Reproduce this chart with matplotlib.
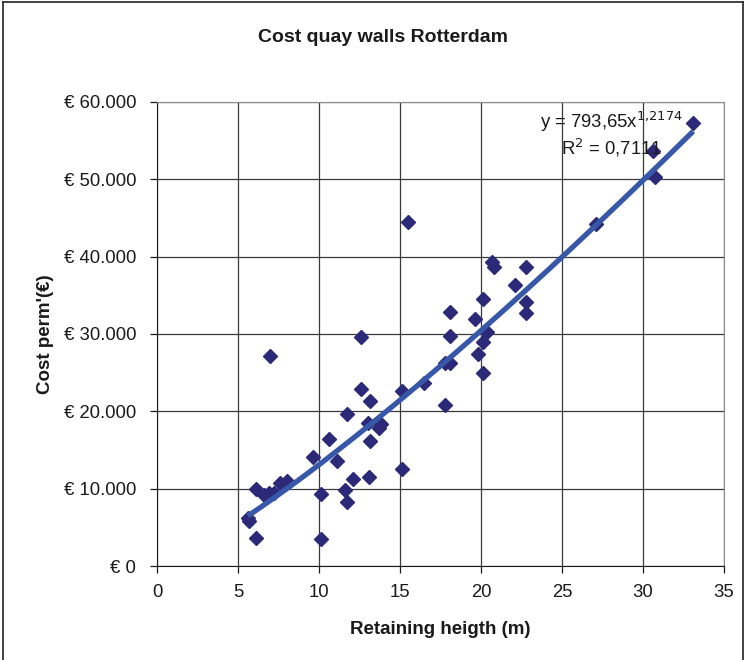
import numpy as np
import matplotlib.pyplot as plt
from matplotlib.ticker import FuncFormatter, MultipleLocator

plt.rcParams['font.family'] = ['Liberation Sans', 'DejaVu Sans']

# retaining height (m) and cost per metre (EUR)
height = [5.6, 5.7, 6.1, 6.1, 6.6, 6.9, 7.2, 7.6, 8.0, 7.0,
          9.6, 10.1, 10.1, 10.6, 11.1, 11.6, 11.75, 11.7, 12.1, 12.6,
          12.6, 13.15, 13.1, 13.0, 13.15, 13.7, 13.8, 15.1, 15.1, 15.5,
          16.5, 17.8, 17.8, 18.1, 18.1, 18.1, 19.6, 19.8, 20.15, 20.15,
          20.4, 20.1, 20.65, 20.8, 22.1, 22.8, 22.8, 22.8, 27.1, 30.6,
          30.75, 33.1]
cost = [6200, 5800, 3600, 9900, 9200, 9400, 9500, 10700, 11000, 27100,
        14050, 9300, 3450, 16400, 13600, 9800, 8300, 19600, 11200, 29600,
        22900, 21400, 11550, 18500, 16100, 17800, 18300, 12500, 22600, 44500,
        23700, 26200, 20800, 26200, 29800, 32800, 31900, 27400, 25000, 29000,
        30300, 34500, 39350, 38700, 36300, 38700, 34200, 32700, 44200, 53600,
        50300, 57250]

# power trendline y = a * x^b
coef_a = 793.65
coef_b = 1.2174
r_squared = 0.7111

fig = plt.figure(figsize=(7.47, 6.60), dpi=100)
ax = fig.add_axes([0.2102, 0.1424, 0.7590, 0.7031])

ax.plot(height, cost, linestyle='none', marker='D', markersize=7.2,
        color='#2c2a78', zorder=3)

xs = np.linspace(min(height), max(height), 200)
ax.plot(xs, coef_a * xs ** coef_b, color='#3758a8', lw=3.8,
        solid_capstyle='butt', zorder=4)

ax.set_xlim(0, 35)
ax.set_ylim(0, 60000)
ax.xaxis.set_major_locator(MultipleLocator(5))
ax.yaxis.set_major_locator(MultipleLocator(10000))
ax.yaxis.set_major_formatter(FuncFormatter(
    lambda v, p: '€ 0' if v == 0 else '€ ' + f'{int(v):,}'.replace(',', '.')))
ax.grid(True, color='#3a3a3a', lw=0.9, zorder=0)
ax.set_axisbelow(True)
ax.tick_params(direction='out', length=5, width=0.9, labelsize=13.3,
               colors='#1a1a1a')
ax.tick_params(axis='y', pad=10)
ax.tick_params(axis='x', pad=8)
for s in ['top', 'right']:
    ax.spines[s].set_color('#8c8c8c')
for s in ['left', 'bottom']:
    ax.spines[s].set_color('#1a1a1a')

ax.set_xlabel('Retaining heigth (m)', fontsize=13.5, fontweight='bold',
              labelpad=14, color='#1a1a1a')
ax.set_ylabel("Cost perm'(€)", fontsize=13.5, fontweight='bold',
              labelpad=7, color='#1a1a1a')

eq = (f'y = {coef_a:.2f}'.replace('.', ',') + 'x$^{'
      + f'{coef_b:.4f}'.replace('.', '{,}') + '}$')
ax.text(0.802, 0.957, eq, transform=ax.transAxes, fontsize=13.3,
        color='#1a1a1a', ha='center', va='center')
ax.text(0.802, 0.901, 'R$^2$ = ' + f'{r_squared:.4f}'.replace('.', ','),
        transform=ax.transAxes, fontsize=13.3, color='#1a1a1a',
        ha='center', va='center')

fig.text(0.513, 0.943, 'Cost quay walls Rotterdam', fontsize=14,
         fontweight='bold', ha='center', va='center', color='#1a1a1a')

# chart frame
for xy in [([0.004, 0.004], [0, 0.997]), ([0.004, 0.994], [0.997, 0.997]),
           ([0.994, 0.994], [0, 0.997])]:
    fig.add_artist(plt.Line2D(xy[0], xy[1], color='#222222', lw=1.2))

fig.savefig('out.png', dpi=100)
